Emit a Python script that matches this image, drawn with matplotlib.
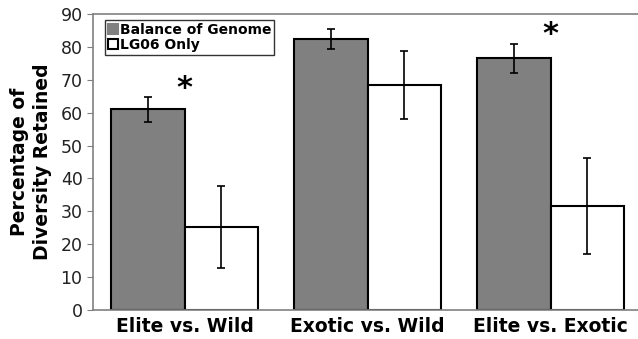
import matplotlib.pyplot as plt
import numpy as np

categories = ["Elite vs. Wild", "Exotic vs. Wild", "Elite vs. Exotic"]
balance = [61.0, 82.3, 76.6]
balance_err = [3.7, 3.0, 4.4]
lg06 = [25.3, 68.4, 31.6]
lg06_err = [12.5, 10.2, 14.7]
significant = [True, False, True]

fig = plt.figure(figsize=(6.38, 3.39), dpi=100)
ax = fig.add_axes([0.1458, 0.0855, 0.8605, 0.8732])

x = np.arange(len(categories))
w = 0.4
ax.bar(x - w / 2, balance, w, color="#808080", edgecolor="black", linewidth=1.5,
       label="Balance of Genome", zorder=2)
ax.bar(x + w / 2, lg06, w, color="white", edgecolor="black", linewidth=1.5,
       label="LG06 Only", zorder=2)
ax.errorbar(x - w / 2, balance, yerr=balance_err, fmt="none", ecolor="black",
            elinewidth=1.2, capsize=3, capthick=1.2, zorder=3)
ax.errorbar(x + w / 2, lg06, yerr=lg06_err, fmt="none", ecolor="black",
            elinewidth=1.2, capsize=3, capthick=1.2, zorder=3)

# significance stars
for i, sig in enumerate(significant):
    if sig:
        top = balance[i] + balance_err[i]
        ax.text(x[i], top + 2.8, "*", ha="center", va="center",
                fontsize=22, fontweight="bold")

ax.set_xlim(-0.5, 2.5)
ax.set_ylim(0, 90)
ax.set_yticks(range(0, 91, 10))
ax.set_xticks(x)
ax.set_xticklabels(categories, fontsize=13.5, fontweight="bold")
ax.tick_params(axis="x", length=0, pad=5)
ax.tick_params(axis="y", labelsize=12.5, length=4, color="#808080", labelcolor="#222222")

for side in ["left", "bottom", "top"]:
    ax.spines[side].set_color("#808080")
    ax.spines[side].set_linewidth(1.2)
ax.spines["right"].set_visible(False)

ax.set_ylabel("Percentage of\nDiversity Retained", fontsize=13.5, fontweight="bold",
              labelpad=6, linespacing=1.25)

leg = ax.legend(loc="upper left", bbox_to_anchor=(0.022, 0.98),
                prop={"weight": "bold", "size": 10}, frameon=True, fancybox=False,
                handlelength=0.7, handleheight=0.7, handletextpad=0.15,
                borderpad=0.2, labelspacing=0.1, borderaxespad=0)
leg.get_frame().set_edgecolor("black")
leg.get_frame().set_linewidth(1.0)
leg.legend_handles[0].set_edgecolor("#808080")

fig.savefig("out.png", dpi=100)
